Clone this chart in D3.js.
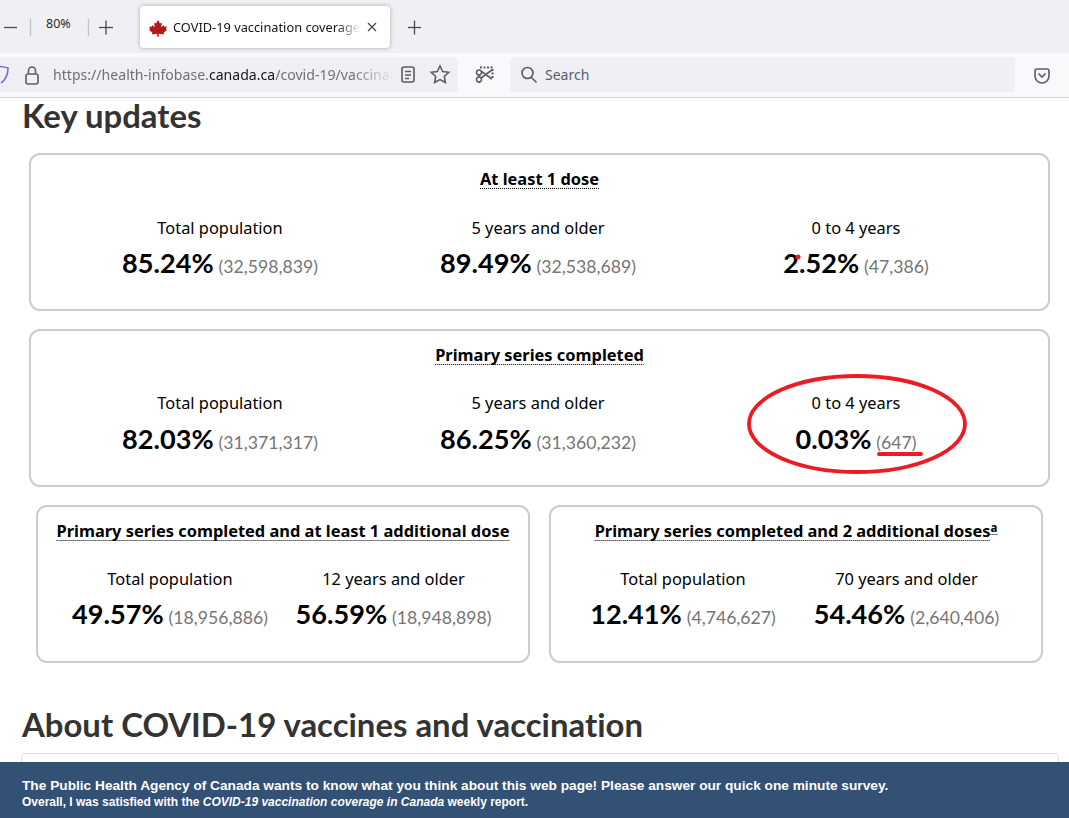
<!DOCTYPE html>
<html>
<head>
<meta charset="utf-8">
<title>COVID-19 vaccination coverage in Canada</title>
<script src="https://cdn.jsdelivr.net/npm/d3@7"></script>
<style>
  html, body { margin: 0; padding: 0; background: #fff; overflow: hidden; }
  svg { display: block; }
  text { font-variant-ligatures: none; }
</style>
</head>
<body>
<svg id="page" width="1069" height="818"></svg>
<script>
// values
const cardTitles = [
  "At least 1 dose",
  "Primary series completed",
  "Primary series completed and at least 1 additional dose",
  "Primary series completed and 2 additional doses"
];
const groupLabels = [
  ["Total population", "5 years and older", "0 to 4 years"],
  ["Total population", "5 years and older", "0 to 4 years"],
  ["Total population", "12 years and older"],
  ["Total population", "70 years and older"]
];
const percentValues = [
  [85.24, 89.49, 2.52],
  [82.03, 86.25, 0.03],
  [49.57, 56.59],
  [12.41, 54.46]
];
const countValues = [
  [32598839, 32538689, 47386],
  [31371317, 31360232, 647],
  [18956886, 18948898],
  [4746627, 2640406]
];

const svg = d3.select("#page");
const fmtPct = d3.format(".2f");
const fmtCount = d3.format(",");
const labelFont = "'Noto Sans', 'Open Sans', sans-serif";
const headFont = "Lato, sans-serif";

// browser chrome
function drawChrome() {
  const chrome = svg.append("g");
  const defs = chrome.append("defs");
  const fade = defs.append("linearGradient").attr("id", "fade");
  fade.append("stop").attr("offset", "0.88").attr("stop-color", "#fff");
  fade.append("stop").attr("offset", "1").attr("stop-color", "#000");
  defs.append("mask").attr("id", "tabmask").attr("maskUnits", "userSpaceOnUse")
    .attr("x", 170).attr("y", 6).attr("width", 190).attr("height", 42)
    .append("rect").attr("x", 170).attr("y", 6).attr("width", 190).attr("height", 42).attr("fill", "url(#fade)");
  defs.append("mask").attr("id", "urlmask").attr("maskUnits", "userSpaceOnUse")
    .attr("x", 50).attr("y", 57).attr("width", 343).attr("height", 35)
    .append("rect").attr("x", 50).attr("y", 57).attr("width", 343).attr("height", 35).attr("fill", "url(#fade)");

  chrome.append("rect").attr("width", 1069).attr("height", 53).attr("fill", "#f0f0f4");
  chrome.append("rect").attr("y", 53).attr("width", 1069).attr("height", 44).attr("fill", "#f9f9fb");
  chrome.append("rect").attr("y", 97).attr("width", 1069).attr("height", 1).attr("fill", "#cfcfd8");
  chrome.append("rect").attr("x", -10).attr("y", 57).attr("width", 468).attr("height", 35).attr("rx", 4).attr("fill", "#f0f0f4");
  chrome.append("rect").attr("x", 510).attr("y", 57).attr("width", 505).attr("height", 35).attr("rx", 4).attr("fill", "#f0f0f4");
  chrome.append("rect").attr("x", 140).attr("y", 6).attr("width", 250).attr("height", 42).attr("rx", 4)
    .attr("fill", "#fff").style("filter", "drop-shadow(0 0 2px rgba(0,0,0,.3))");

  const strokes = [
    "M4 27.5H17", "M99 27.5H113", "M106 20.500V34.500", "M408 27.5H421", "M414.500 20.500V34.500",
    "M30.500 18.500V36.500", "M88.500 18.500V36.500",
    "M368 23L376 31M376 23L368 31"
  ];
  chrome.selectAll("path.stroke").data(strokes).enter().append("path")
    .attr("class", "stroke").attr("d", d => d).attr("fill", "none")
    .attr("stroke", (d, i) => i === 5 || i === 6 ? "#c4c4c8" : "#4a4a4f").attr("stroke-width", 1.3);

  const icons = [
    "M28 74H36A2 2 0 0 1 38 76V82A2 2 0 0 1 36 84H28A2 2 0 0 1 26 82V76A2 2 0 0 1 28 74Z M28.500 74V70.500A3.500 3.500 0 0 1 35.500 70.500V74",
    "M404 67H412A2 2 0 0 1 414 69V80A2 2 0 0 1 412 82H404A2 2 0 0 1 402 80V69A2 2 0 0 1 404 67Z M405 71.500H411 M405 75H411 M405 78.500H409",
    "M440 66L442.700 71.500L448.700 72.300L444.300 76.500L445.400 82.500L440 79.600L434.600 82.500L435.700 76.500L431.300 72.300L437.300 71.500Z",
    "M481 78L492 70 M481 71L492 79 M481 71A2.500 2.500 0 1 1 477 74A2.500 2.500 0 1 1 481 71 M481 78A2.500 2.500 0 1 0 477 81A2.500 2.500 0 1 0 481 78",
    "M531.500 77.500L536.500 82.500 M533 73A5.500 5.500 0 1 1 522 73A5.500 5.500 0 1 1 533 73",
    "M1037 69H1047A2 2 0 0 1 1049 71V76A7 7 0 0 1 1035 76V71A2 2 0 0 1 1037 69Z M1038.500 73.500L1042 77L1045.500 73.500"
  ];
  chrome.selectAll("path.icon").data(icons).enter().append("path")
    .attr("class", "icon").attr("d", d => d).attr("fill", "none")
    .attr("stroke", "#5b5b66").attr("stroke-width", 1.6);
  // dashed frame of the screenshot button
  chrome.append("path").attr("d", "M480 67.500H492.500V79").attr("fill", "none")
    .attr("stroke", "#5b5b66").attr("stroke-width", 2).attr("stroke-dasharray", "2 1.500");
  chrome.append("path").attr("d", "M0 66.500Q5 67 8 68Q8 78 1 83").attr("fill", "none")
    .attr("stroke", "#7b68ee").attr("stroke-width", 1.6);

  // maple leaf favicon
  chrome.append("path")
    .attr("transform", "translate(158,28) scale(0.8) translate(-158,-28)")
    .attr("d", "M158 18L160.500 22.500L163 21.300L162 27L165 24.500L166 26.500L169 26L168 29.500L169.500 30.300L165 34L165.500 36L159 35.300V39H157V35.300L150.500 36L151 34L146.500 30.300L148 29.500L147 26L150 26.500L151 24.500L154 27L153 21.300L155.500 22.500Z")
    .attr("fill", "#b5171d");

  const chromeText = [
    { t: "80%", x: 46, y: 28, fill: "#2b2a33", size: 12.5 },
    { t: "COVID-19 vaccination coverage in Canada", x: 173, y: 32, fill: "#15141a", size: 12.8 },
    { t: "Search", x: 545, y: 79.500, fill: "#5b5b66", size: 14 }
  ];
  chrome.selectAll("text.c").data(chromeText).enter().append("text")
    .attr("class", "c").attr("x", d => d.x).attr("y", d => d.y)
    .attr("fill", d => d.fill).attr("font-size", d => d.size)
    .attr("font-family", "'Noto Sans', sans-serif")
    .attr("mask", d => d.x === 173 ? "url(#tabmask)" : null)
    .text(d => d.t);

  chrome.append("text").attr("x", 53).attr("y", 79.500).attr("font-size", 14.1)
    .attr("font-family", "'Noto Sans', sans-serif").attr("fill", "#6f6f78").attr("mask", "url(#urlmask)")
    .selectAll("tspan").data(["https://health-infobase.", "canada.ca", "/covid-19/vaccination"])
    .enter().append("tspan").attr("fill", (d, i) => i === 1 ? "#15141a" : null).text(d => d);
}

// one summary card, columns placed by a point scale
function drawCard(i, box, range) {
  const g = svg.append("g");
  g.append("rect").attr("x", box.x).attr("y", box.y).attr("width", box.w).attr("height", box.h)
    .attr("rx", 10).attr("fill", "#fff").attr("stroke", "#cccccc").attr("stroke-width", 2);

  const cx = box.x + box.w / 2;
  const title = g.append("text").attr("x", cx).attr("y", box.y + 31)
    .attr("text-anchor", "middle").attr("font-family", labelFont).attr("font-weight", 700)
    .attr("font-size", 16.4).attr("fill", "#000").text(cardTitles[i]);
  if (i === 3) {
    title.append("tspan").attr("font-size", 11.5).attr("dy", -5).text("a");
  }
  const node = title.node();
  const tw = node.getComputedTextLength();
  const mainWidth = node.getSubStringLength(0, cardTitles[i].length);
  const left = cx - tw / 2;
  g.append("line").attr("x1", left).attr("x2", left + mainWidth)
    .attr("y1", box.y + 34.500).attr("y2", box.y + 34.500)
    .attr("stroke", "#000").attr("stroke-width", 1).attr("stroke-dasharray", "1 1");
  if (i === 3) {
    g.append("line").attr("x1", left + mainWidth).attr("x2", left + tw)
      .attr("y1", box.y + 28.500).attr("y2", box.y + 28.500)
      .attr("stroke", "#000").attr("stroke-width", 1).attr("stroke-dasharray", "1 1");
  }

  const x = d3.scalePoint().domain(d3.range(groupLabels[i].length)).range(range);
  const cols = g.selectAll("g.col").data(groupLabels[i]).enter().append("g").attr("class", "col")
    .attr("transform", (d, j) => `translate(${x(j)},0)`);
  cols.append("text").attr("y", box.y + box.labelY).attr("text-anchor", "middle")
    .attr("font-family", labelFont).attr("font-size", 16.4).attr("fill", "#000").text(d => d);
  const val = cols.append("text").attr("y", box.y + box.valueY).attr("text-anchor", "middle").attr("font-family", headFont);
  val.append("tspan").attr("font-size", 27.1).attr("font-weight", 700).attr("fill", "#000")
    .text((d, j) => fmtPct(percentValues[i][j]) + "%");
  val.append("tspan").attr("font-size", 17.65).attr("fill", "#757575").attr("dx", 5).attr("dy", -0.5)
    .text((d, j) => "(" + fmtCount(countValues[i][j]) + ")");
}

drawChrome();

svg.append("text").attr("x", 22).attr("y", 128).attr("font-family", headFont).attr("font-weight", 700)
  .attr("font-size", 32.9).attr("fill", "#333").text("Key updates");
svg.append("text").attr("x", 22).attr("y", 736.500).attr("font-family", headFont).attr("font-weight", 700)
  .attr("font-size", 32.9).attr("fill", "#333").text("About COVID-19 vaccines and vaccination");

drawCard(0, { x: 30, y: 154, w: 1019, h: 156, labelY: 80, valueY: 119 }, [220, 856]);
drawCard(1, { x: 30, y: 330, w: 1019, h: 156, labelY: 79, valueY: 119 }, [220, 856]);
drawCard(2, { x: 37, y: 506, w: 492, h: 156, labelY: 79, valueY: 118 }, [170, 393.500]);
drawCard(3, { x: 550, y: 506, w: 492, h: 156, labelY: 79, valueY: 118 }, [683, 906.500]);

// hand-drawn red annotation
svg.append("ellipse").attr("cx", 857).attr("cy", 424).attr("rx", 108).attr("ry", 48)
  .attr("fill", "none").attr("stroke", "#ed1c24").attr("stroke-width", 3.800);
svg.append("line").attr("x1", 879).attr("x2", 921).attr("y1", 454).attr("y2", 454)
  .attr("stroke", "#ed1c24").attr("stroke-width", 4).attr("stroke-linecap", "round");
svg.append("circle").attr("cx", 798).attr("cy", 257).attr("r", 2.500).attr("fill", "#ed1c24");

// next section and survey banner
svg.append("rect").attr("x", 21.500).attr("y", 753.500).attr("width", 1037).attr("height", 30).attr("rx", 3)
  .attr("fill", "#fff").attr("stroke", "#dddddd");
svg.append("rect").attr("y", 762).attr("width", 1069).attr("height", 56).attr("fill", "#335075");
svg.append("text").attr("x", 22).attr("y", 790).attr("font-family", "'Liberation Sans', Arial, sans-serif")
  .attr("font-weight", 700).attr("font-size", 13.7).attr("fill", "#fff")
  .text("The Public Health Agency of Canada wants to know what you think about this web page! Please answer our quick one minute survey.");
const survey = svg.append("text").attr("x", 22).attr("y", 806).attr("font-family", "'Liberation Sans', Arial, sans-serif")
  .attr("font-weight", 700).attr("font-size", 12).attr("fill", "#fff");
survey.append("tspan").text("Overall, I was satisfied with the ");
survey.append("tspan").attr("font-style", "italic").text("COVID-19 vaccination coverage in Canada");
survey.append("tspan").text(" weekly report.");
</script>
</body>
</html>
